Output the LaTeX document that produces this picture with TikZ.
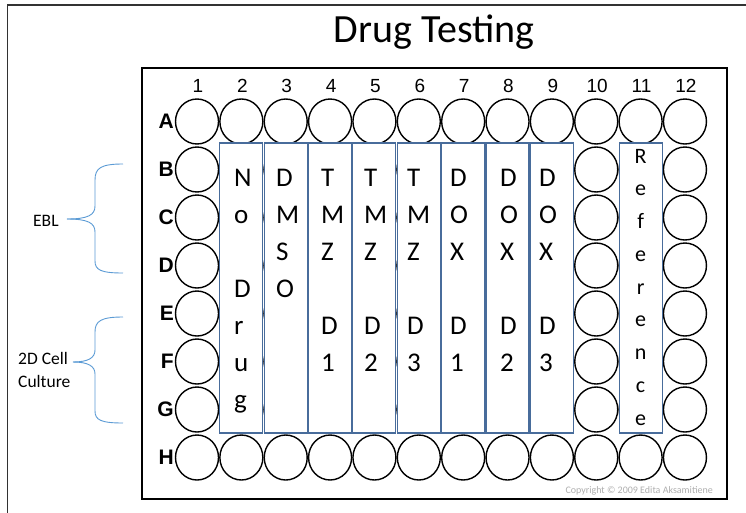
\documentclass[tikz,border=0pt]{standalone}
\usepackage{fontspec}
\usetikzlibrary{shapes.geometric}
\newfontfamily\arialf{Liberation Sans}
\newfontfamily\calf{Carlito}
\definecolor{stripblue}{RGB}{72,108,155}
\definecolor{braceblue}{RGB}{91,155,213}
\definecolor{framegray}{RGB}{50,50,50}
\definecolor{copygray}{RGB}{175,175,175}
\newcommand\stackletters[3]{%
  \foreach \ch [count=\k from 0] in {#3} {%
    \node[stripletter, anchor=base west] (#1-\k) at (#2, {186+37*\k}) {\ch};}}
\begin{document}
\begin{tikzpicture}[x=1pt, y=-1pt,
  well/.style={ellipse, draw=black, line width=1.4pt, minimum width=43pt, minimum height=45pt, inner sep=0pt},
  rowlab/.style={font=\arialf\bfseries\fontsize{21}{21}\selectfont, inner sep=0pt},
  collab/.style={font=\arialf\fontsize{19}{19}\selectfont, inner sep=0pt},
  stripbox/.style={rectangle, draw=stripblue, fill=white, line width=1.1pt, minimum width=43pt, minimum height=290pt, inner sep=0pt},
  stripletter/.style={font=\calf\fontsize{27}{27}\selectfont, inner sep=0pt},
  refletter/.style={font=\calf\fontsize{22}{22}\selectfont, inner sep=0pt},
  sidelab/.style={font=\calf\fontsize{17.5}{23}\selectfont, inner sep=0pt},
  titlestyle/.style={font=\calf\fontsize{40}{40}\selectfont, inner sep=0pt},
  copystyle/.style={font=\calf\fontsize{10}{10}\selectfont, text=copygray, inner sep=0pt},
  brace/.style={draw=braceblue, line width=0.9pt},
]
\useasboundingbox (0,0) rectangle (746,512);
\fill[white] (0,0) rectangle (746,512);
% outer frame
\draw[framegray, line width=1.5pt] (7.5,513) -- (7.5,5) -- (747,5);
% title
\node[titlestyle, anchor=base] (title) at (434,42) {Drug Testing};
% plate
\draw[black, line width=1.8pt] (142,68) rectangle (727,499);
% wells and row labels
\foreach \r [count=\ri from 0] in {A,B,C,D,E,F,G,H} {
  \node[rowlab, anchor=east] (lab\r) at (174, {121.5+48*\ri}) {\r};
  \foreach \c in {1,...,12}
    \node[well] (w\r\c) at ({197+44.36*(\c-1)}, {121.5+48*\ri}) {};
}
% column numbers
\foreach \c in {1,...,12}
  \node[collab, anchor=base] (num\c) at ({198+44.36*(\c-1)}, 92) {\c};
% strips
\foreach \c in {2,3,4,5,6,7,8,9,11}
  \node[stripbox] (strip\c) at ({197+44.36*(\c-1)}, 288) {};
% strip texts
\stackletters{t2}{234}{N,o,{},D,r,u,g}
\stackletters{t3}{276}{D,M,S,O}
\stackletters{t4}{321}{T,M,Z,{},D,1}
\stackletters{t5}{364}{T,M,Z,{},D,2}
\stackletters{t6}{407}{T,M,Z,{},D,3}
\stackletters{t7}{450}{D,O,X,{},D,1}
\stackletters{t8}{500}{D,O,X,{},D,2}
\stackletters{t9}{539}{D,O,X,{},D,3}
\foreach \ch [count=\k from 0] in {R,e,f,e,r,e,n,c,e}
  \node[refletter, anchor=base] (ref-\k) at (640.6, {163+32.75*\k}) {\ch};
% side labels
\node[sidelab, anchor=base west] (ebl) at (33,226) {EBL};
\node[sidelab, anchor=north west, align=left] (cell) at (18,352) {2D Cell\\Culture};
% braces
\coordinate (eblTop) at (123,164);
\coordinate (eblBot) at (123,273);
\coordinate (eblTip) at (67,219);
\coordinate (cellTop) at (123,317);
\coordinate (cellBot) at (123,423);
\coordinate (cellTip) at (73,362);
\draw[brace] (eblTop) .. controls (101,164) and (95,168) .. (95,180) -- (95,206)
  .. controls (95,215) and (88,219) .. (eblTip);
\draw[brace] (eblTip) .. controls (88,219) and (95,223) .. (95,232) -- (95,261)
  .. controls (95,270) and (101,273) .. (eblBot);
\draw[brace] (cellTop) .. controls (101,317) and (95,321) .. (95,332) -- (95,350)
  .. controls (95,358) and (88,362) .. (cellTip);
\draw[brace] (cellTip) .. controls (88,362) and (95,366) .. (95,374) -- (95,411)
  .. controls (95,420) and (101,423) .. (cellBot);
% copyright
\node[copystyle, anchor=base east] (copy) at (713,493) {Copyright © 2009 Edita Aksamitiene};
\end{tikzpicture}
\end{document}
